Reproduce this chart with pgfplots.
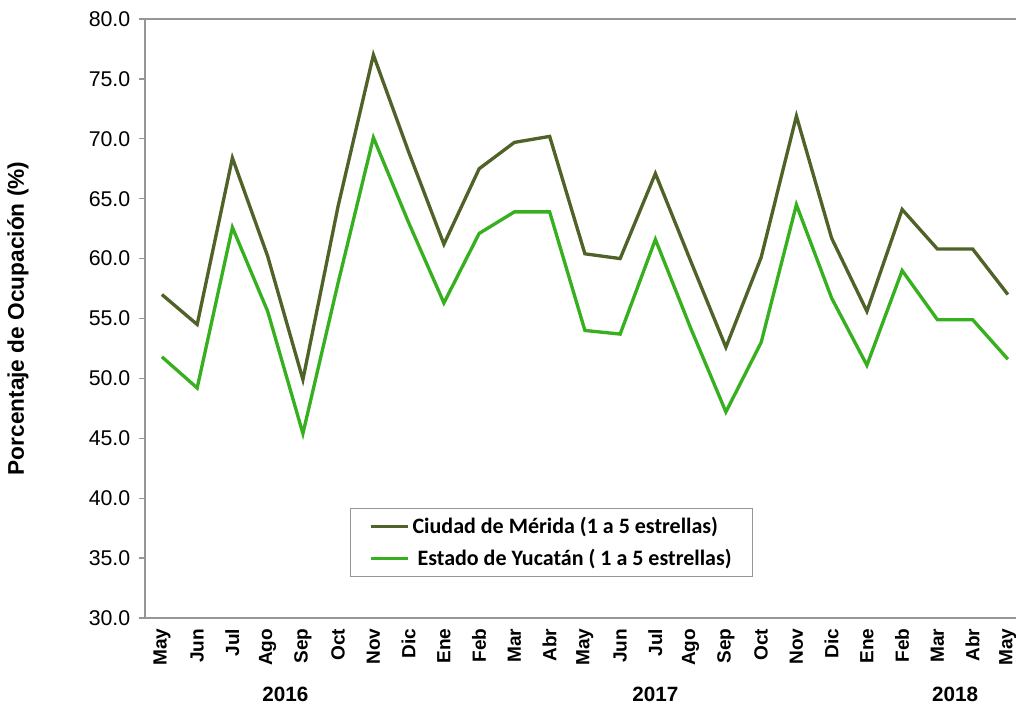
\documentclass[border=0pt]{standalone}
\usepackage{pgfplots}
\pgfplotsset{compat=1.18}
\usepackage{fontspec}
\setmainfont{Liberation Sans}
\newfontfamily\legfont{Carlito}
\definecolor{merida}{RGB}{79,98,40}
\definecolor{yucatan}{RGB}{55,176,32}
\definecolor{axgray}{RGB}{150,150,150}
\begin{document}
\begin{tikzpicture}
\begin{axis}[
  name=ax,
  scale only axis,
  width=653.25pt, height=449.25pt,
  xmin=-0.48, xmax=24.23,
  ymin=30, ymax=80,
  ytick={30,35,...,80},
  xtick={0,...,24},
  xticklabels={May,Jun,Jul,Ago,Sep,Oct,Nov,Dic,Ene,Feb,Mar,Abr,May,Jun,Jul,Ago,Sep,Oct,Nov,Dic,Ene,Feb,Mar,Abr,May},
  axis x line=box,
  axis y line=left,
  axis line style={-, draw=axgray, line width=1.1pt},
  xtick style={draw=none},
  ytick style={draw=axgray, line width=1pt},
  tick align=outside,
  major tick length=4.5pt,
  yticklabel style={font=\fontsize{16}{18}\selectfont, xshift=-3pt},
  xticklabel style={font=\fontsize{14.3}{16}\selectfont\bfseries, rotate=90, anchor=east, xshift=0pt},
  /pgf/number format/.cd, fixed, fixed zerofill, precision=1, assume math mode=true,
  /pgfplots/.cd,
  ylabel={Porcentaje de Ocupación (\%)},
  every axis y label/.style={at={([xshift=-95.25pt]rel axis cs:0,0.5)}, rotate=90, anchor=center,
    font=\fontsize{17}{20}\selectfont\bfseries},
  legend style={at={(rel axis cs:0.467,0.126)}, anchor=center, draw=axgray, line width=0.8pt,
    font=\legfont\bfseries\fontsize{16.5}{19}\selectfont, inner xsep=14pt, inner ysep=5pt,
    row sep=6pt, cells={anchor=west}},
  legend image post style={line width=2.5pt},
  legend image code/.code={\draw[#1] (0pt,0pt) -- (28pt,0pt);},
  clip=false,
]
\addplot[merida, line width=2.5pt] coordinates {
(0,57.0) (1,54.5) (2,68.4) (3,60.2) (4,49.9) (5,64.4) (6,77.0) (7,68.9) (8,61.2) (9,67.5)
(10,69.7) (11,70.2) (12,60.4) (13,60.0) (14,67.1) (15,59.8) (16,52.6) (17,60.1) (18,71.9)
(19,61.7) (20,55.6) (21,64.1) (22,60.8) (23,60.8) (24,57.0)};
\addlegendentry{Ciudad de Mérida (1 a 5 estrellas)}
\addplot[yucatan, line width=2.5pt] coordinates {
(0,51.8) (1,49.2) (2,62.6) (3,55.6) (4,45.4) (5,58.0) (6,70.1) (7,63.0) (8,56.3) (9,62.1)
(10,63.9) (11,63.9) (12,54.0) (13,53.7) (14,61.6) (15,54.2) (16,47.2) (17,53.0) (18,64.5)
(19,56.7) (20,51.1) (21,59.0) (22,54.9) (23,54.9) (24,51.6)};
\addlegendentry{\ Estado de Yucatán ( 1 a 5 estrellas)}
\node[font=\fontsize{15.5}{18}\selectfont\bfseries] at ([yshift=-57pt]axis cs:3.5,30) {2016};
\node[font=\fontsize{15.5}{18}\selectfont\bfseries] at ([yshift=-57pt]axis cs:14,30) {2017};
\node[font=\fontsize{15.5}{18}\selectfont\bfseries] at ([yshift=-57pt]axis cs:22.5,30) {2018};
\end{axis}
\pgfresetboundingbox
\path ([xshift=-108.75pt, yshift=-66pt]ax.south west) rectangle ([yshift=14.25pt]ax.north east);
\end{tikzpicture}
\end{document}
